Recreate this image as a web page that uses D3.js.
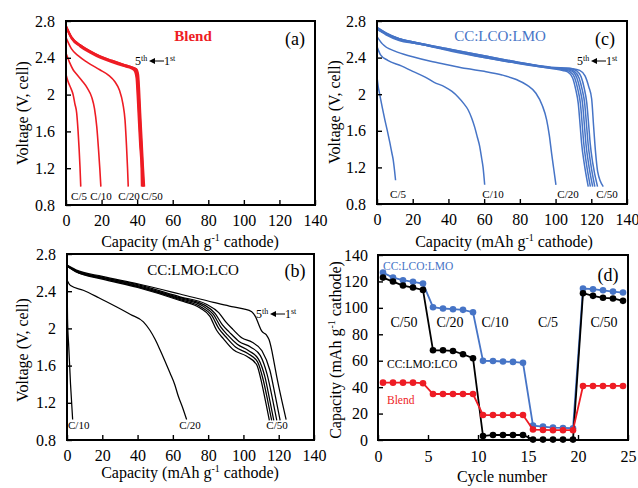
<!DOCTYPE html>
<html>
<head>
<meta charset="utf-8">
<script src="https://cdn.jsdelivr.net/npm/d3@7"></script>
<style>
  body { margin: 0; background: #fff; }
  svg { display: block; font-family: "Liberation Serif", "Times New Roman", serif; }
</style>
</head>
<body>
<svg id="chart" width="638" height="488"></svg>
<script>
// ---- tick labels ----
const voltTicks = [0.8, 1.2, 1.6, 2.0, 2.4, 2.8];
const capTicks = [0, 20, 40, 60, 80, 100, 120, 140];
const cycleTicks = [0, 5, 10, 15, 20, 25];
const rateCapTicks = [0, 20, 40, 60, 80, 100, 120, 140];

// ---- (a) Blend discharge curves [capacity, voltage] ----
const blendC5 = [[0,2.22],[1,2.15],[2.5,2.08],[4,2.0],[5,1.9],[6,1.8],[6.8,1.6],[7.4,1.4],[7.9,1.2],[8.3,1.0]];
const blendC10 = [[0,2.45],[2,2.35],[4,2.27],[6,2.22],[9,2.15],[12,2.07],[14.5,1.97],[16,1.85],[17.3,1.65],[18.3,1.4],[19,1.2],[19.6,1.0]];
const blendC20 = [[0,2.62],[3,2.5],[7,2.42],[12,2.35],[19,2.27],[24,2.21],[27.5,2.14],[30,2.05],[32,1.9],[33.2,1.72],[34,1.45],[34.6,1.2],[35,1.0]];
const blendC50_1 = [[0,2.75],[3,2.63],[8,2.54],[14,2.47],[19,2.42],[26,2.37],[32,2.33],[37,2.3],[39.6,2.28],[40.7,2.22],[41.3,2.05],[41.9,1.8],[42.7,1.5],[43.5,1.2],[44.1,1.0]];
const blendC50_2 = [[0,2.75],[3,2.63],[8,2.54],[14,2.47],[19,2.42],[26,2.37],[32,2.33],[37,2.3],[39.3,2.28],[40.4,2.21],[41.0,2.03],[41.6,1.79],[42.4,1.49],[43.2,1.2],[43.7,1.0]];
const blendC50_3 = [[0,2.74],[3,2.62],[8,2.53],[14,2.46],[19,2.41],[26,2.36],[32,2.32],[37,2.29],[39.0,2.27],[40.1,2.2],[40.7,2.02],[41.3,1.78],[42.1,1.48],[42.9,1.2],[43.3,1.0]];
const blendC50_4 = [[0,2.74],[3,2.62],[8,2.53],[14,2.46],[19,2.41],[26,2.36],[32,2.32],[37,2.29],[38.7,2.27],[39.8,2.19],[40.4,2.0],[41.0,1.77],[41.8,1.47],[42.6,1.2],[42.9,1.0]];
const blendC50_5 = [[0,2.73],[3,2.61],[8,2.52],[14,2.45],[19,2.4],[26,2.35],[32,2.31],[37,2.28],[38.4,2.26],[39.5,2.18],[40.1,1.99],[40.7,1.76],[41.5,1.46],[42.3,1.2],[42.5,1.0]];

// ---- (c) CC:LCO:LMO discharge curves ----
const lcoC5 = [[0,2.19],[0.7,2.08],[1.5,2.0],[3,1.85],[4.4,1.72],[5.8,1.6],[7.2,1.47],[8.3,1.36],[9.1,1.28],[9.8,1.17],[10.4,1.06]];
const lcoC10 = [[0,2.52],[2,2.43],[6,2.37],[13.6,2.31],[20,2.25],[26.7,2.19],[32,2.13],[37.9,2.08],[42,2.03],[45.4,1.97],[48.5,1.9],[51,1.83],[53,1.74],[54.7,1.64],[56.2,1.53],[57.5,1.43],[58.6,1.3],[59.4,1.2],[60.3,1.01]];
const lcoC20 = [[0,2.63],[3,2.55],[10,2.47],[20,2.41],[30,2.36],[40,2.32],[50,2.28],[60,2.25],[70,2.21],[78,2.16],[84,2.1],[89,2.01],[92.5,1.88],[95,1.72],[96.5,1.55],[97.8,1.35],[99,1.18],[100.2,1.01]];
const lcoC50_1 = [[0,2.73],[5,2.67],[12,2.61],[23,2.56],[41.6,2.49],[60,2.42],[79,2.35],[97.6,2.295],[109,2.28],[113.5,2.26],[116.5,2.2],[118.6,2.08],[120.2,1.95],[121.3,1.65],[122,1.46],[122.8,1.28],[123.6,1.15],[126.7,0.99]];
const lcoC50_2 = [[0,2.73],[5,2.67],[12,2.61],[23,2.56],[41.6,2.49],[60,2.42],[79,2.35],[97.6,2.29],[108,2.28],[111.8,2.255],[114.3,2.19],[116.1,2.06],[117.5,1.9],[118.6,1.65],[119.4,1.46],[120.8,1.25],[123.5,0.99]];
const lcoC50_3 = [[0,2.72],[5,2.66],[12,2.61],[23,2.56],[41.6,2.48],[60,2.41],[79,2.345],[97.6,2.29],[107,2.275],[110.6,2.25],[113.1,2.18],[114.9,2.05],[116.3,1.9],[117.4,1.65],[118.2,1.46],[119.6,1.25],[122,0.99]];
const lcoC50_4 = [[0,2.72],[5,2.66],[12,2.6],[23,2.55],[41.6,2.48],[60,2.41],[79,2.34],[97.6,2.285],[106,2.27],[109.4,2.25],[111.9,2.18],[113.7,2.05],[115.1,1.9],[116.2,1.65],[117,1.46],[118.4,1.25],[120.8,0.99]];
const lcoC50_5 = [[0,2.71],[5,2.66],[12,2.6],[23,2.55],[41.6,2.48],[60,2.4],[79,2.34],[97.6,2.285],[105,2.265],[108.2,2.245],[110.7,2.18],[112.5,2.05],[113.9,1.9],[115,1.65],[115.8,1.46],[117.2,1.25],[119.5,0.99]];
const lcoC50_6 = [[0,2.71],[5,2.65],[12,2.59],[23,2.55],[41.6,2.47],[60,2.4],[79,2.335],[97.6,2.28],[104,2.26],[107,2.24],[109.5,2.18],[111.3,2.05],[112.7,1.9],[113.8,1.65],[114.6,1.46],[116,1.25],[118.3,0.99]];

// ---- (b) CC:LMO:LCO discharge curves ----
const lmoC10 = [[0,2.6],[0.3,2.1],[1,1.8],[2,1.4],[3.2,1.02]];
const lmoC20 = [[0,2.52],[2,2.46],[9.2,2.41],[18,2.33],[28.2,2.23],[36,2.15],[43.3,2.07],[47,1.98],[50,1.88],[52.7,1.77],[55.5,1.65],[58.4,1.52],[61,1.4],[63.1,1.27],[65.5,1.15],[67.8,1.02]];
const lmoC50_1 = [[0,2.68],[5,2.63],[20,2.56],[40,2.48],[64,2.37],[83,2.28],[92,2.24],[100,2.21],[104.7,2.18],[107,2.12],[108.5,2.05],[110.4,1.97],[113,1.93],[114.5,1.88],[116,1.77],[117.5,1.62],[118.9,1.48],[121.7,1.23],[124.2,1.02]];
const lmoC50_2 = [[0,2.68],[5,2.62],[20,2.55],[40,2.47],[64,2.34],[79,2.26],[86,2.17],[90,2.07],[94,1.99],[99,1.9],[105,1.85],[110.5,1.76],[115,1.55],[118,1.28],[120.8,1.01]];
const lmoC50_3 = [[0,2.68],[5,2.62],[20,2.55],[40,2.46],[64,2.33],[78,2.25],[84,2.16],[88,2.04],[92,1.96],[97.5,1.86],[104,1.8],[109.5,1.71],[113.5,1.5],[116.5,1.24],[118.9,1.01]];
const lmoC50_4 = [[0,2.67],[5,2.62],[20,2.54],[40,2.45],[64,2.32],[77,2.24],[83,2.15],[87,2.02],[91,1.93],[96.5,1.83],[103,1.76],[108.5,1.67],[112.3,1.47],[115,1.22],[117.2,1.01]];
const lmoC50_5 = [[0,2.67],[5,2.61],[20,2.54],[40,2.45],[64,2.31],[76,2.23],[82,2.14],[86,2.0],[90,1.91],[95.5,1.8],[102.5,1.73],[108,1.64],[111.3,1.44],[114,1.2],[116,1.01]];
const lmoC50_6 = [[0,2.67],[5,2.61],[20,2.53],[40,2.44],[64,2.3],[75.4,2.22],[81,2.13],[84.8,1.98],[88.6,1.89],[94.3,1.77],[101.9,1.7],[107.5,1.61],[110.4,1.41],[112.8,1.19],[114.7,1.01]];

// ---- (d) rate capability ----
const cycleNumber = [0.5,1.5,2.5,3.5,4.5, 5.5,6.5,7.5,8.5,9.5, 10.5,11.5,12.5,13.5,14.5, 15.5,16.5,17.5,18.5,19.5, 20.5,21.5,22.5,23.5,24.5];
const capLCOLMO = [126.7,122.9,120.9,119.7,118.4, 100.5,99.5,99,98.5,96.7, 59.9,59.8,59.4,59.1,58.4, 10.9,10.1,9.4,9.1,8.9, 114.6,114.1,113.3,112.3,111.6];
const capLMOLCO = [122.9,119.9,116.9,115.4,113.6, 67.9,67.9,67.4,64.9,61.9, 3,3.8,3.8,3.8,3.8, 0.3,0.3,0.3,0.3,0.3, 111.1,109.1,107.6,107.1,105.3];
const capBlend = [43.4,43.4,43.4,43.4,43, 34.8,34.8,34.8,34.8,34.8, 18.9,18.9,18.9,18.9,18.9, 7.9,7.6,7.4,7.4,7.4, 40.9,40.9,40.9,40.9,40.9];
const rateLabels = ['C/50', 'C/20', 'C/10', 'C/5', 'C/50'];
const rateLabelCycle = [2.6, 7.2, 11.7, 17, 22.6];

const RED = '#ee1c24';
const BLUE = '#4674c6';
const FONT = '"Liberation Serif", "Times New Roman", serif';

const svg = d3.select('#chart');

function txt(x, y, s, size, opts = {}) {
  return svg.append('text')
    .attr('x', x).attr('y', y)
    .attr('font-size', size)
    .attr('text-anchor', opts.anchor || 'middle')
    .attr('fill', opts.color || '#000')
    .attr('font-weight', opts.bold ? 'bold' : null)
    .text(s);
}

// "Capacity (mAh g-1 cathode)" with superscript
function capTitle(x, y, rotate) {
  const t = svg.append('text')
    .attr('font-size', 16)
    .attr('text-anchor', 'middle')
    .attr('transform', rotate ? `translate(${x},${y}) rotate(-90)` : `translate(${x},${y})`);
  t.append('tspan').text('Capacity (mAh g');
  t.append('tspan').attr('font-size', 10).attr('dy', -6).text('-1');
  t.append('tspan').attr('dy', 6).text(' cathode)');
}

function voltTitle(x, y) {
  svg.append('text')
    .attr('font-size', 16)
    .attr('text-anchor', 'middle')
    .attr('transform', `translate(${x},${y}) rotate(-90)`)
    .text('Voltage (V, cell)');
}

// "5th <- 1st"
function cycleArrow(x, y) {
  const t1 = svg.append('text').attr('x', x).attr('y', y).attr('font-size', 12);
  t1.append('tspan').text('5');
  t1.append('tspan').attr('font-size', 8).attr('dy', -4).text('th');
  svg.append('line')
    .attr('x1', x + 18).attr('x2', x + 29)
    .attr('y1', y - 4).attr('y2', y - 4)
    .attr('stroke', '#000').attr('stroke-width', 1);
  svg.append('path')
    .attr('d', `M${x + 14},${y - 4} L${x + 20},${y - 7} L${x + 20},${y - 1} Z`)
    .attr('fill', '#000');
  const t2 = svg.append('text').attr('x', x + 29).attr('y', y).attr('font-size', 12);
  t2.append('tspan').text('1');
  t2.append('tspan').attr('font-size', 8).attr('dy', -4).text('st');
}

function styleAxis(a) {
  a.select('.domain').remove();
  a.attr('font-family', FONT).attr('font-size', 16);
  a.selectAll('.tick line').attr('stroke-width', 1.4);
}

function frame(box) {
  svg.append('rect')
    .attr('x', box.x0).attr('y', box.y0)
    .attr('width', box.x1 - box.x0).attr('height', box.y1 - box.y0)
    .attr('fill', 'none').attr('stroke', '#000').attr('stroke-width', 2);
}

function voltPanel(box, curves, color, width) {
  const x = d3.scaleLinear().domain([0, 140]).range([box.x0, box.x1]);
  const y = d3.scaleLinear().domain([0.8, 2.8]).range([box.y1, box.y0]);
  const line = d3.line().x(d => x(d[0])).y(d => y(d[1])).curve(d3.curveMonotoneX);

  svg.append('g').selectAll('path')
    .data(curves)
    .join('path')
    .attr('d', line)
    .attr('fill', 'none')
    .attr('stroke', color)
    .attr('stroke-width', width);

  svg.append('g')
    .attr('transform', `translate(0,${box.y1})`)
    .call(d3.axisBottom(x).tickValues(capTicks).tickSize(-5).tickPadding(10))
    .call(styleAxis);
  svg.append('g')
    .attr('transform', `translate(${box.x0},0)`)
    .call(d3.axisLeft(y).tickValues(voltTicks).tickSize(-5).tickPadding(11)
      .tickFormat(d => String(+d.toFixed(1))))
    .call(styleAxis);
  frame(box);
  return { x, y };
}

// ---------- (a) Blend ----------
const boxA = { x0: 66, x1: 315, y0: 21, y1: 205 };
voltPanel(boxA, [blendC5, blendC10, blendC20, blendC50_1, blendC50_2, blendC50_3, blendC50_4, blendC50_5], RED, 1.6);
txt(193, 41, 'Blend', 15, { color: RED, bold: true });
txt(295, 45, '(a)', 18);
cycleArrow(135, 65);
txt(79, 200, 'C/5', 11);
txt(101, 200, 'C/10', 11);
txt(129, 200, 'C/20', 11);
txt(152, 200, 'C/50', 11);
voltTitle(28, 113);
capTitle(190, 247, false);

// ---------- (c) CC:LCO:LMO ----------
const boxC = { x0: 377, x1: 627, y0: 21, y1: 204 };
voltPanel(boxC, [lcoC5, lcoC10, lcoC20, lcoC50_1, lcoC50_2, lcoC50_3, lcoC50_4, lcoC50_5, lcoC50_6], BLUE, 1.5);
txt(500, 41, 'CC:LCO:LMO', 15, { color: BLUE });
txt(605, 45, '(c)', 18);
cycleArrow(577, 65);
txt(398, 198, 'C/5', 11);
txt(493, 198, 'C/10', 11);
txt(568, 198, 'C/20', 11);
txt(607, 198, 'C/50', 11);
voltTitle(340, 112);
capTitle(504, 247, false);

// ---------- (b) CC:LMO:LCO ----------
const boxB = { x0: 67, x1: 314, y0: 254, y1: 440 };
voltPanel(boxB, [lmoC10, lmoC20, lmoC50_1, lmoC50_2, lmoC50_3, lmoC50_4, lmoC50_5, lmoC50_6], '#000', 1.25);
txt(193, 275, 'CC:LMO:LCO', 15);
txt(295, 277, '(b)', 18);
cycleArrow(256, 318);
txt(68, 429, 'C/10', 11, { anchor: 'start' });
txt(190, 429, 'C/20', 11);
txt(277, 429, 'C/50', 11);
voltTitle(28, 350);
capTitle(190, 478, false);

// ---------- (d) rate capability ----------
const boxD = { x0: 378, x1: 628, y0: 255, y1: 440 };
const xD = d3.scaleLinear().domain([0, 25]).range([boxD.x0, boxD.x1]);
const yD = d3.scaleLinear().domain([0, 140]).range([boxD.y1, boxD.y0]);
const rateSeries = [
  { color: BLUE, values: capLCOLMO },
  { color: '#000', values: capLMOLCO },
  { color: RED, values: capBlend }
];
const rateLine = d3.line().x((d, i) => xD(cycleNumber[i])).y(d => yD(d));
rateSeries.forEach(s => {
  svg.append('path')
    .attr('d', rateLine(s.values))
    .attr('fill', 'none')
    .attr('stroke', s.color)
    .attr('stroke-width', 1.8);
  svg.append('g').selectAll('circle')
    .data(s.values)
    .join('circle')
    .attr('cx', (d, i) => xD(cycleNumber[i]))
    .attr('cy', d => yD(d))
    .attr('r', 3.3)
    .attr('fill', s.color);
});
svg.append('g')
  .attr('transform', `translate(0,${boxD.y1})`)
  .call(d3.axisBottom(xD).tickValues(cycleTicks).tickSize(-5).tickPadding(11))
  .call(styleAxis);
svg.append('g')
  .attr('transform', `translate(${boxD.x0},0)`)
  .call(d3.axisLeft(yD).tickValues(rateCapTicks).tickSize(-5).tickPadding(10))
  .call(styleAxis);
frame(boxD);

rateLabels.forEach((r, i) => txt(xD(rateLabelCycle[i]), 327, r, 14));
txt(383, 270, 'CC:LCO:LMO', 11.5, { anchor: 'start', color: BLUE });
txt(387, 368, 'CC:LMO:LCO', 11.5, { anchor: 'start' });
txt(387, 404, 'Blend', 11.5, { anchor: 'start', color: RED });
txt(608, 281, '(d)', 18);
capTitle(341, 350, true);
txt(502, 482, 'Cycle number', 16);
</script>
</body>
</html>
